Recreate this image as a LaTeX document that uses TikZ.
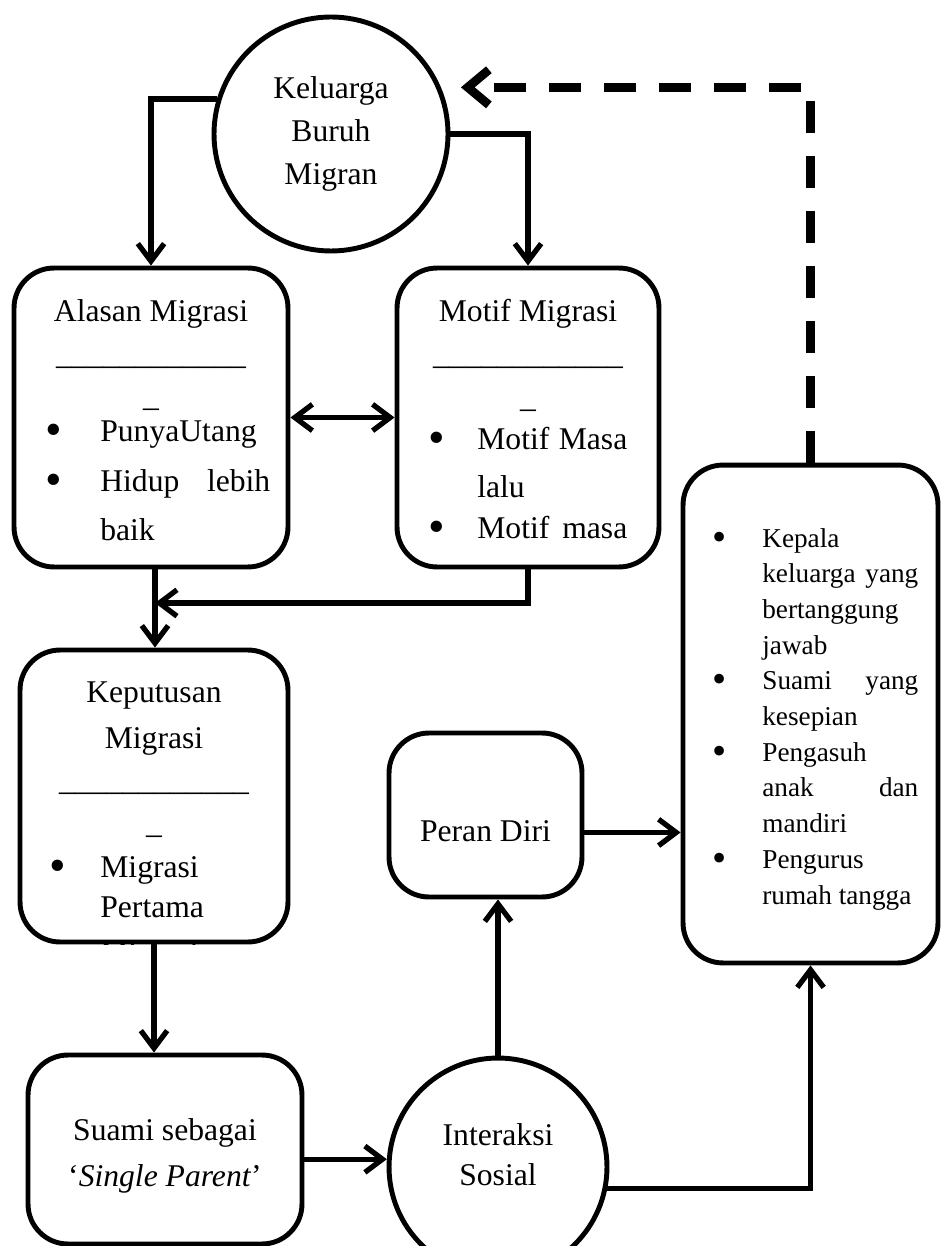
\documentclass[tikz,border=0pt]{standalone}
\usepackage{fontspec}
\setmainfont{Liberation Serif}
\usepackage{tikz}
\usetikzlibrary{arrows.meta}

\tikzset{
  box/.style={draw, line width=2.8pt, rounded corners=0.8cm, inner sep=0pt},
  blob/.style={draw, circle, line width=2.8pt, inner sep=0pt},
  big/.style={font=\fontsize{18}{26}\selectfont, inner sep=0pt, anchor=base},
  sml/.style={font=\fontsize{15.5}{20}\selectfont, inner sep=0pt, anchor=base west},
  dot/.style={font=\fontsize{27}{27}\selectfont, inner sep=0pt, anchor=base},
  sdot/.style={font=\fontsize{23}{23}\selectfont, inner sep=0pt, anchor=base},
  arr/.style={line width=3pt, -{Straight Barb[length=10pt,width=15pt]}},
  arrboth/.style={line width=3pt, {Straight Barb[length=10pt,width=15pt]}-{Straight Barb[length=10pt,width=15pt]}},
  back/.style={line width=5pt, dash pattern=on 0.64cm off 0.46cm, -{Straight Barb[length=12pt,width=20pt]}, shorten >=0.4cm}
}
\newcommand{\dashrow}{\_\_\_\_\_\_\_\_\_\_\_\_}
\newcommand{\jst}[2]{\makebox[#1][s]{#2}}

\begin{document}
\begin{tikzpicture}[x=0.02cm, y=-0.02cm]
\useasboundingbox (0,0) rectangle (940,1246);

% shapes
\node[blob, minimum size=4.68cm, align=center, font=\fontsize{18}{24.5}\selectfont] (kel) at (331,134) {Keluarga\\Buruh\\Migran};
\node[box, minimum width=5.48cm, minimum height=5.98cm] (alasan) at (151,417.5) {};
\node[box, minimum width=5.24cm, minimum height=5.98cm] (motif) at (528,417.5) {};
\node[box, minimum width=5.36cm, minimum height=5.84cm] (keputusan) at (154,796) {};
\node[box, minimum width=5.48cm, minimum height=3.78cm] (suami) at (165,1149.5) {};
\node[blob, minimum size=4.36cm] (inter) at (498,1167) {};
\node[box, minimum width=3.86cm, minimum height=3.28cm] (peran) at (485.5,815) {};
\node[box, minimum width=5.1cm, minimum height=9.96cm] (peranan) at (810.5,714) {};

% alasan
\node[big] (alasanT) at (151,322) {Alasan Migrasi};
\node[big] (alasanL) at (151,365) {\dashrow};
\node[big] (alasanU) at (151,406) {\_};
\node[dot] (alasanB1) at (54,445) {•};
\node[big, anchor=base west] (alasanI1) at (100,441) {PunyaUtang};
\node[dot] (alasanB2) at (54,495) {•};
\node[big, anchor=base west] (alasanI2) at (100,491) {\jst{3.4cm}{Hidup lebih}};
\node[big, anchor=base west] (alasanI3) at (100,540) {baik};

% motif
\node[big] (motifT) at (528,322) {Motif Migrasi};
\node[big] (motifL) at (528,365) {\dashrow};
\node[big] (motifU) at (528,407) {\_};
\node[dot] (motifB1) at (437,453) {•};
\node[big, anchor=base west] (motifI1) at (477,449) {\jst{3.0cm}{Motif Masa}};
\node[big, anchor=base west] (motifI2) at (477,497) {lalu};
\node[dot] (motifB2) at (437,542) {•};
\node[big, anchor=base west] (motifI3) at (477,538) {\jst{3.0cm}{Motif masa}};

% keputusan
\node[big] (kepT1) at (154,702) {Keputusan};
\node[big] (kepT2) at (154,748) {Migrasi};
\node[big] (kepL) at (154,790) {\dashrow};
\node[big] (kepU) at (154,833) {\_};
\node[dot] (kepB1) at (58,881) {•};
\node[big, anchor=base west] (kepI1) at (100,877) {Migrasi};
\node[big, anchor=base west] (kepI2) at (100,917) {Pertama};
\begin{scope}
\clip[rounded corners=0.8cm] (keputusan.south west) rectangle (keputusan.north east);
\node[big, anchor=base west] (kepI3) at (100,963) {Migrasi};
\end{scope}

% bawah
\node[big] (suamiT1) at (165,1140) {Suami sebagai};
\node[big] (suamiT2) at (165,1186) {‘\textit{Single Parent}’};
\node[big] (interT1) at (498,1145) {Interaksi};
\node[big] (interT2) at (498,1185) {Sosial};
\node[big] (peranT) at (485.5,841) {Peran Diri};

% peranan
\foreach \t [count=\i] in {Kepala, {\jst{3.12cm}{keluarga yang}}, bertanggung, jawab, {\jst{3.12cm}{Suami yang}}, kesepian, Pengasuh, {\jst{3.12cm}{anak dan}}, mandiri, Pengurus, rumah tangga}
  \node[sml] (perT\i) at (762,{547+(\i-1)*35.7}) {\t};
\foreach \i in {1,5,7,10}
  \node[sdot] (perB\i) at (720,{550+(\i-1)*35.7}) {•};

% connectors
\coordinate (merge) at (155,603);
\draw[arr] (kel.163) -| (alasan.north);
\draw[arr] (kel.east) -| (motif.north);
\draw[arrboth] (alasan.east) -- (motif.west);
\draw[arr] (motif.south) |- (merge);
\draw[arr] (alasan.south -| merge) -- (keputusan.north -| merge);
\draw[arr] (keputusan.south) -- (suami.north -| keputusan.south);
\draw[arr] (suami.east |- inter.176) -- (inter.176);
\draw[arr] (inter.north) -- (peran.south -| inter.north);
\draw[arr] (peran.-10) -- (peran.-10 -| peranan.west);
\draw[arr] (inter.-11) -| (peranan.south);
\draw[back] (peranan.north) |- (kel.23);
\end{tikzpicture}
\end{document}
